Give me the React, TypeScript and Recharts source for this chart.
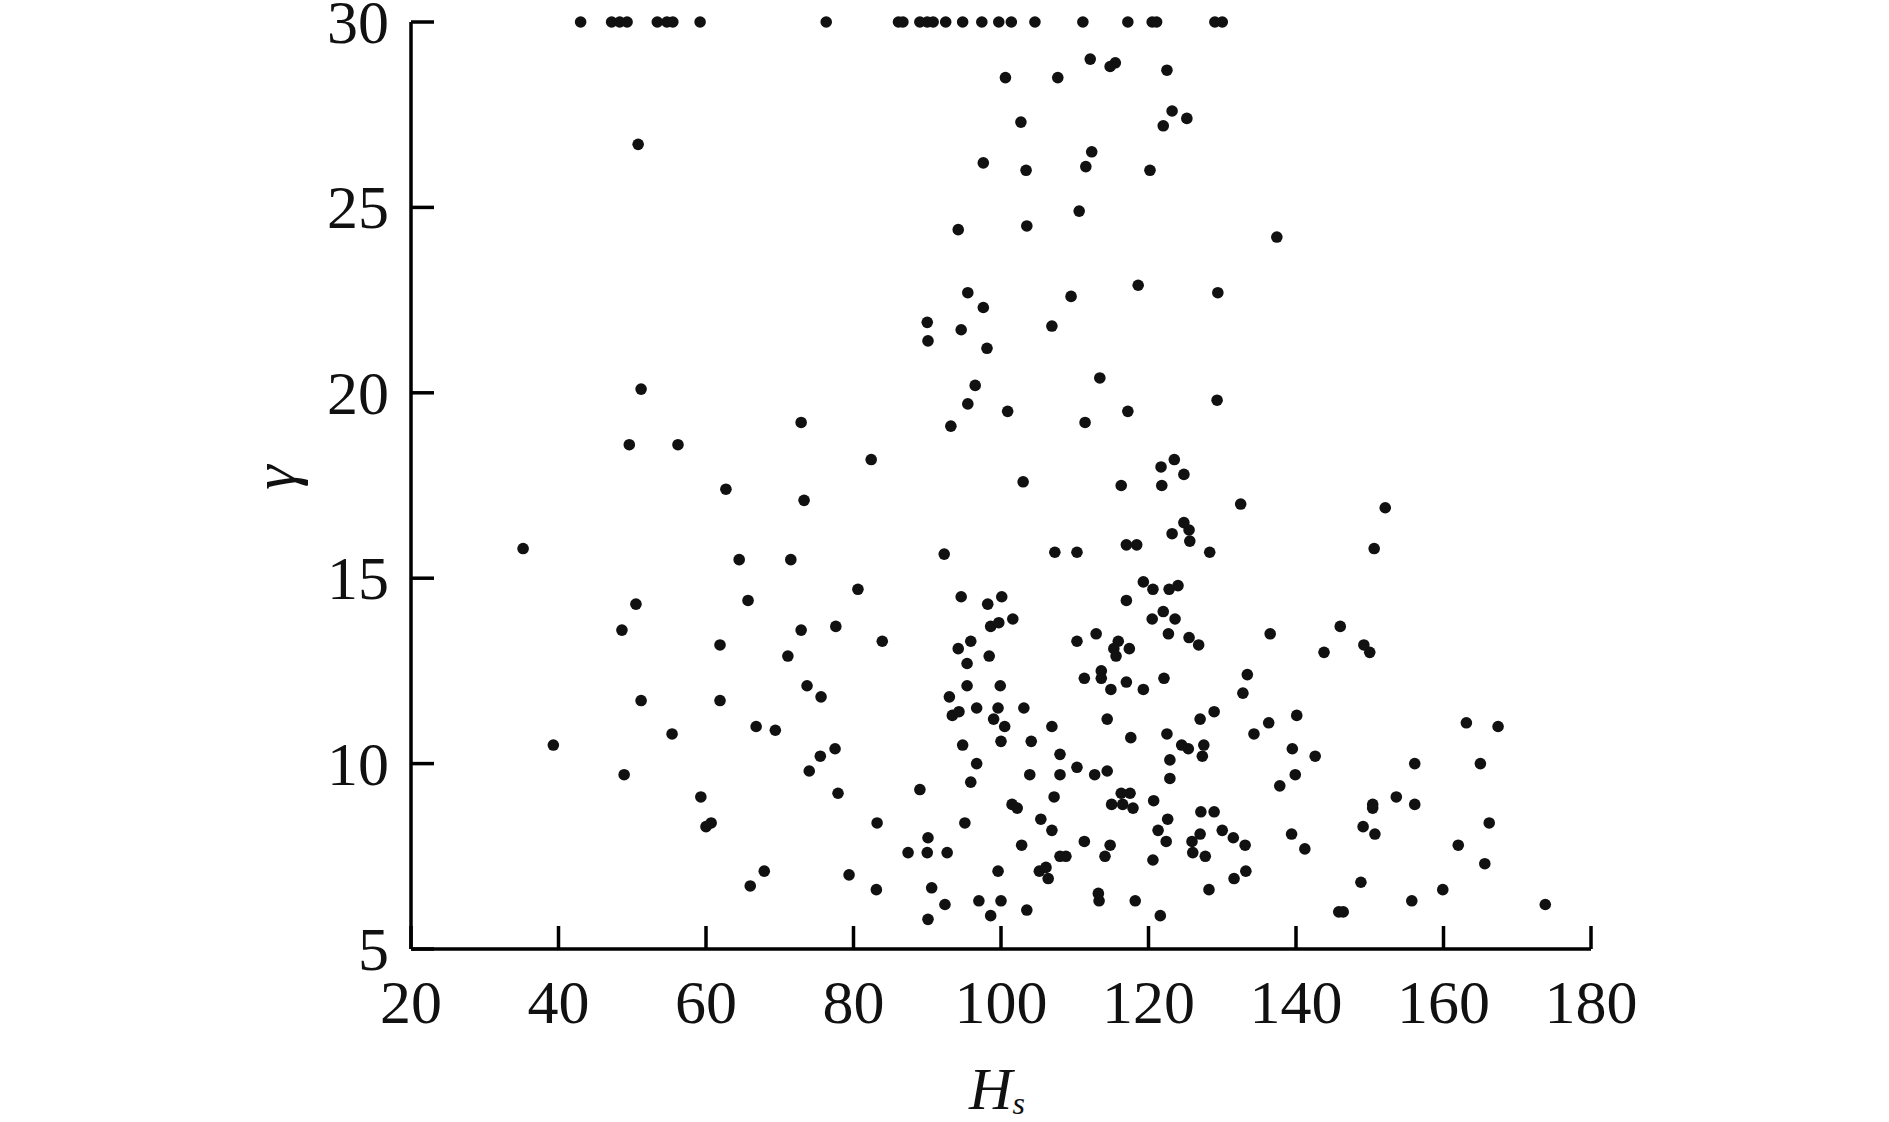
import { ScatterChart, Scatter, XAxis, YAxis } from 'recharts';

const FONT = '"Liberation Serif", "Times New Roman", serif';
const INK = '#111';

const X_TICKS = [20, 40, 60, 80, 100, 120, 140, 160, 180];
const Y_TICKS = [5, 10, 15, 20, 25, 30];
const GAMMA_CAP = 30;

// Hs of the points that sit on the gamma = 30 cap
const cappedHs = [
  43.0, 47.2, 48.3, 49.3, 53.4, 54.7, 55.5, 59.2, 76.3, 86.1, 86.7, 89.0, 90.0,
  90.8, 92.5, 94.8, 97.4, 99.7, 101.4, 104.6, 111.1, 117.2, 120.5, 121.1, 129.0, 130.0,
];

const hs = [
  50.8, 100.6, 97.6, 94.2, 95.5, 97.6, 90.0, 94.6, 90.1, 98.1, 96.5, 95.5, 93.2, 72.9,
  82.4, 62.7, 73.3, 92.3, 64.5, 71.5, 80.6, 65.7, 94.6, 98.2, 100.1, 98.6, 99.7, 72.9,
  77.6, 83.9, 95.9,
  51.2, 49.6, 56.2, 35.2, 50.5, 48.6,
  112.1, 115.5, 114.8, 107.7, 122.5, 123.2, 125.2, 122.0, 102.7, 112.3, 111.5, 103.4,
  120.2, 110.6, 103.5, 137.4, 118.6, 109.5, 129.4, 106.9,
  113.4, 100.9, 117.2, 111.4, 129.3, 123.5, 121.7, 124.8, 103.0, 116.3, 121.8, 132.5,
  124.8, 125.5, 123.2, 125.6, 128.3, 107.3, 110.3, 117.0, 118.4, 119.3, 120.6, 122.8,
  124.0, 117.0, 101.6, 120.5, 122.0, 123.6, 112.9, 122.7, 136.5, 110.3, 115.9, 125.5,
  152.1, 150.6, 146.0,
  51.2, 55.4, 39.3, 48.9, 59.3, 60.0, 60.7,
  61.9, 71.1, 94.2, 95.4, 98.4, 73.7, 75.6, 61.9, 95.4, 99.9, 93.0, 93.4, 94.3, 96.7,
  99.6, 99.0, 100.5, 100.0, 66.8, 69.4, 77.5, 75.5, 74.0, 94.8, 96.7, 95.9, 77.9, 89.0,
  83.2, 95.1, 90.1, 87.4, 90.0, 92.7, 67.9, 66.0, 79.4, 83.1, 90.6, 92.4, 90.1, 99.6,
  97.0, 100.0, 98.6,
  115.3, 115.6, 117.4, 126.8, 111.3, 113.6, 113.6, 117.0, 114.9, 119.3, 122.1, 133.4,
  132.8, 103.1, 106.9, 104.1, 114.4, 117.6, 122.5, 124.5, 125.4, 127.5, 127.3, 122.9,
  127.0, 128.9, 134.3, 136.3, 140.1, 139.5, 139.9, 137.8, 108.0, 103.9, 108.0, 110.3,
  112.7, 114.4, 122.9, 107.2, 101.5, 102.2, 116.3, 117.5, 115.0, 116.5, 117.9, 120.7,
  122.6, 127.1, 128.9, 105.4, 106.9, 121.3, 127.0, 130.0, 131.5, 133.1, 125.9, 122.4,
  102.8, 111.3, 114.8, 114.1, 108.0, 108.8, 126.0, 127.7, 120.6, 105.2, 106.1, 106.4,
  133.2, 131.6, 128.2, 103.5, 113.2, 113.3, 118.2, 121.6, 139.4,
  143.8, 149.2, 150.0, 163.1, 167.4, 142.6, 156.1, 165.0, 153.6, 150.4, 150.4, 156.1,
  149.1, 150.7, 141.2, 166.2, 162.0, 165.6, 148.8, 159.9, 155.7, 145.8, 146.4, 173.8,
];

const gamma = [
  26.7, 28.5, 26.2, 24.4, 22.7, 22.3, 21.9, 21.7, 21.4, 21.2, 20.2, 19.7, 19.1, 19.2,
  18.2, 17.4, 17.1, 15.65, 15.5, 15.5, 14.7, 14.4, 14.5, 14.3, 14.5, 13.7, 13.8, 13.6,
  13.7, 13.3, 13.3,
  20.1, 18.6, 18.6, 15.8, 14.3, 13.6,
  29.0, 28.9, 28.8, 28.5, 28.7, 27.6, 27.4, 27.2, 27.3, 26.5, 26.1, 26.0,
  26.0, 24.9, 24.5, 24.2, 22.9, 22.6, 22.7, 21.8,
  20.4, 19.5, 19.5, 19.2, 19.8, 18.2, 18.0, 17.8, 17.6, 17.5, 17.5, 17.0,
  16.5, 16.3, 16.2, 16.0, 15.7, 15.7, 15.7, 15.9, 15.9, 14.9, 14.7, 14.7,
  14.8, 14.4, 13.9, 13.9, 14.1, 13.9, 13.5, 13.5, 13.5, 13.3, 13.3, 13.4,
  16.9, 15.8, 13.7,
  11.7, 10.8, 10.5, 9.7, 9.1, 8.3, 8.4,
  13.2, 12.9, 13.1, 12.7, 12.9, 12.1, 11.8, 11.7, 12.1, 12.1, 11.8, 11.3, 11.4, 11.5,
  11.5, 11.2, 11.0, 10.6, 11.0, 10.9, 10.4, 10.2, 9.8, 10.5, 10.0, 9.5, 9.2, 9.3,
  8.4, 8.4, 8.0, 7.6, 7.6, 7.6, 7.1, 6.7, 7.0, 6.6, 6.65, 6.2, 5.8, 7.1,
  6.3, 6.3, 5.9,
  13.1, 12.9, 13.1, 13.2, 12.3, 12.5, 12.3, 12.2, 12.0, 12.0, 12.3, 12.4,
  11.9, 11.5, 11.0, 10.6, 11.2, 10.7, 10.8, 10.5, 10.4, 10.5, 10.2, 10.1,
  11.2, 11.4, 10.8, 11.1, 11.3, 10.4, 9.7, 9.4, 10.25, 9.7, 9.7, 9.9,
  9.7, 9.8, 9.6, 9.1, 8.9, 8.8, 9.2, 9.2, 8.9, 8.9, 8.8, 9.0,
  8.5, 8.7, 8.7, 8.5, 8.2, 8.2, 8.1, 8.2, 8.0, 7.8, 7.9, 7.9,
  7.8, 7.9, 7.8, 7.5, 7.5, 7.5, 7.6, 7.5, 7.4, 7.1, 7.2, 6.9,
  7.1, 6.9, 6.6, 6.05, 6.5, 6.3, 6.3, 5.9, 8.1,
  13.0, 13.2, 13.0, 11.1, 11.0, 10.2, 10.0, 10.0, 9.1, 8.9, 8.8, 8.9,
  8.3, 8.1, 7.7, 8.4, 7.8, 7.3, 6.8, 6.6, 6.3, 6.0, 6.0, 6.2,
];

const data = [
  ...cappedHs.map((h) => ({ hs: h, gamma: GAMMA_CAP })),
  ...hs.map((h, i) => ({ hs: h, gamma: gamma[i] })),
];

const TICK_FONT = 62;

function YTick({ x, y, payload }: any) {
  return (
    <g>
      <line x1={x} x2={x + 23} y1={y} y2={y} stroke="#000" strokeWidth={3.5} />
      <text x={x - 22} y={y} textAnchor="end" dominantBaseline="central" fontSize={TICK_FONT} fontFamily={FONT} fill={INK}>
        {payload.value}
      </text>
    </g>
  );
}

function XTick({ x, y, payload }: any) {
  return (
    <g>
      <line x1={x} x2={x} y1={y} y2={y - 23} stroke="#000" strokeWidth={3.5} />
      <text x={x} y={y + 53} textAnchor="middle" dominantBaseline="central" fontSize={TICK_FONT} fontFamily={FONT} fill={INK}>
        {payload.value}
      </text>
    </g>
  );
}

export default function App() {
  if (typeof document !== 'undefined') document.body.style.margin = '0';

  return (
    <div style={{ width: 1889, height: 1122, background: '#fff' }}>
      <ScatterChart width={1889} height={1122} margin={{ top: 22, right: 298, bottom: 0, left: 0 }}>
        <XAxis
          type="number"
          dataKey="hs"
          domain={[20, 180]}
          ticks={X_TICKS}
          interval={0}
          height={173}
          tickSize={0}
          tickMargin={0}
          tickLine={false}
          axisLine={{ stroke: '#000', strokeWidth: 3.5 }}
          tick={<XTick />}
          label={{
            content: ({ viewBox }: any) => {
              const vb = viewBox ?? { x: 411, y: 949, width: 1180 };
              return (
                <text x={vb.x + vb.width / 2 - 4} y={vb.y + 140} textAnchor="middle" dominantBaseline="central" fontFamily={FONT} fill={INK} fontStyle="italic">
                  <tspan fontSize={60}>H</tspan>
                  <tspan fontSize={32} dy={14}>s</tspan>
                </text>
              );
            },
          }}
        />
        <YAxis
          type="number"
          dataKey="gamma"
          domain={[5, 30]}
          ticks={Y_TICKS}
          interval={0}
          width={411}
          tickSize={0}
          tickMargin={0}
          tickLine={false}
          axisLine={{ stroke: '#000', strokeWidth: 3.5 }}
          tick={<YTick />}
          label={{
            content: ({ viewBox }: any) => {
              const vb = viewBox ?? { x: 0, y: 22, height: 927 };
              const cx = vb.x + 274;
              const cy = vb.y + vb.height / 2 - 8;
              return (
                <text x={cx} y={cy} textAnchor="middle" dominantBaseline="central" fontSize={62} fontFamily={FONT} fontStyle="italic" fill={INK} transform={`rotate(-90, ${cx}, ${cy})`}>
                  γ
                </text>
              );
            },
          }}
        />
        <Scatter
          data={data}
          isAnimationActive={false}
          shape={(p: any) => <circle cx={p.cx} cy={p.cy} r={5.8} fill={INK} />}
        />
      </ScatterChart>
    </div>
  );
}
